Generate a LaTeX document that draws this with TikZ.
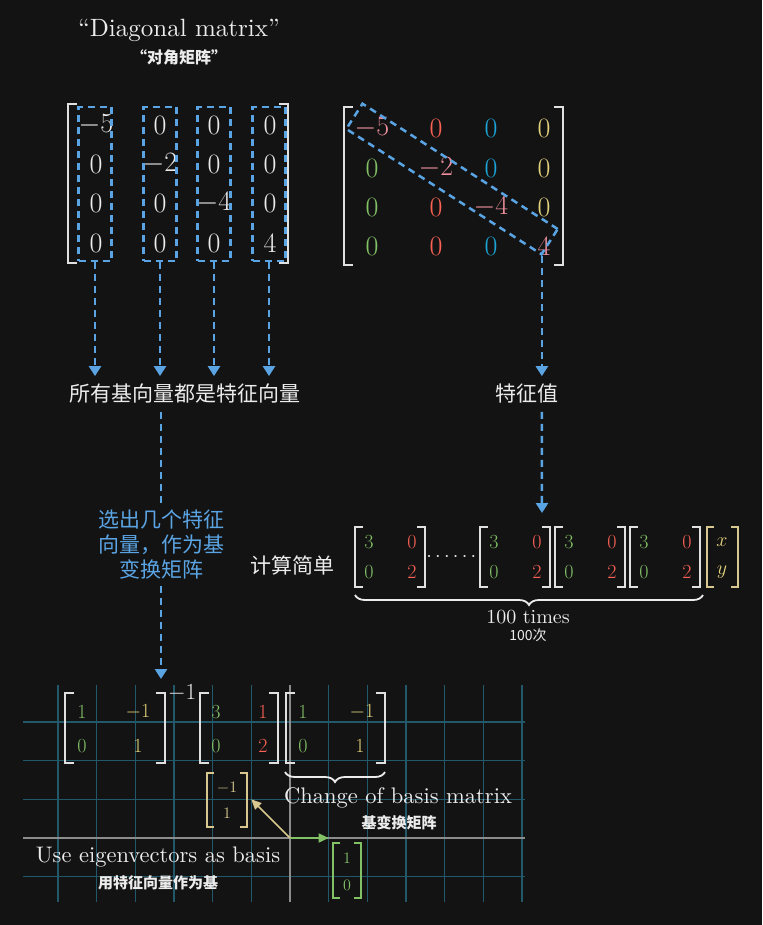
\RequirePackage{fix-cm}
\documentclass[tikz,border=0pt]{standalone}
\usepackage{fontspec}
\usepackage{amsmath}
\usetikzlibrary{arrows.meta,decorations.pathreplacing}
\setmainfont{lmroman10-regular.otf}
\newfontfamily\cjk{Noto Sans CJK SC}
\definecolor{BgDark}{HTML}{131313}
\definecolor{TextWhite}{HTML}{ECECEC}
\definecolor{BrackWhite}{HTML}{E0E0E0}
\definecolor{DashBlue}{HTML}{5BA4E3}
\definecolor{EntryPink}{HTML}{F0909F}
\definecolor{EntryRed}{HTML}{FC6255}
\definecolor{EntryCyan}{HTML}{1CA3D3}
\definecolor{EntryYellow}{HTML}{E3D27C}
\definecolor{EntryGreen}{HTML}{83C167}
\definecolor{VecTan}{HTML}{D8C890}
\definecolor{GridTeal}{HTML}{21596B}
\definecolor{AxisGray}{HTML}{8C8C8C}
\newcommand{\brackpair}[6]{%
  \draw[brak,#6] ({#1+#5},#3) -- (#1,#3) -- (#1,#4) -- ({#1+#5},#4);
  \draw[brak,#6] ({#2-#5},#3) -- (#2,#3) -- (#2,#4) -- ({#2-#5},#4);}
\tikzset{%
  bigentry/.style={text=TextWhite,font=\fontsize{28}{30}\selectfont},
  midentry/.style={text=TextWhite,font=\fontsize{20}{24}\selectfont},
  tinyentry/.style={font=\fontsize{16}{18}\selectfont},
  entitle/.style={text=TextWhite,font=\fontsize{25}{30}\selectfont},
  entext/.style={text=TextWhite,font=\fontsize{22.5}{26}\selectfont},
  zhlabel/.style={text=TextWhite,font=\cjk\fontsize{21}{25}\selectfont,inner ysep=8pt},
  zhblue/.style={text=DashBlue,font=\cjk\fontsize{21}{25}\selectfont,align=center,inner sep=6pt},
  zhsmall/.style={text=TextWhite,font=\cjk\bfseries\fontsize{15}{18}\selectfont},
  colbox/.style={draw=DashBlue,line width=2.5pt,dash pattern=on 7pt off 5pt,
    minimum width=33pt,minimum height=154pt},
  diagbox/.style={draw=DashBlue,line width=2.5pt,dash pattern=on 7pt off 5pt,
    minimum width=232pt,minimum height=30pt,rotate=-32.7},
  flow/.style={-{Triangle[width=12pt,length=10pt]},line width=2.5pt,
    dash pattern=on 7pt off 5pt,DashBlue},
  dline/.style={line width=2.5pt,dash pattern=on 7pt off 5pt,DashBlue},
  brak/.style={line width=2.6pt,line join=miter},
  curly/.style={draw=TextWhite,line width=1.8pt,decorate,
    decoration={brace,mirror,amplitude=10pt}},
  gridline/.style={GridTeal,line width=1.4pt},
  axisline/.style={AxisGray,line width=1.4pt},
  vec/.style={-{Triangle[width=9pt,length=10pt]},line width=1.5pt}
}
\begin{document}
\begin{tikzpicture}[x=1pt,y=-1pt]
  \fill[BgDark] (0,0) rectangle (762,925);
  \useasboundingbox (0,0) rectangle (762,925);

  % title
  \node[entitle] (title) at (179,30) {``Diagonal matrix''};
  \node[zhsmall,font=\cjk\bfseries\fontsize{16}{18}\selectfont] (titlezh) at (179,57) {“对角矩阵”};

  % diagonal matrix, column view
  \foreach \row/\y in {1/125,2/164,3/203,4/243}
    \foreach \col/\x/\d in {1/96/-5,2/160/-2,3/214/-4,4/270/4}
      \node[bigentry] (a\row\col) at (\x,\y) {$\ifnum\row=\col\relax\d\else0\fi$};
  \brackpair{68}{288}{104}{263}{9}{BrackWhite}
  \foreach \x [count=\i] in {95,160,214,269}
    \node[colbox] (c\i) at (\x,184) {};

  % diagonal matrix, diagonal view
  \foreach \row/\y in {1/128,2/168,3/207,4/246}
    \foreach \col/\x/\d/\cc in {1/372/-5/EntryGreen,2/436/-2/EntryRed,3/491/-4/EntryCyan,4/544/4/EntryYellow}
      {\ifnum\row=\col\relax
         \node[bigentry,text=EntryPink] (b\row\col) at (\x,\y) {$\d$};
       \else
         \node[bigentry,text=\cc] (b\row\col) at (\x,\y) {$0$};
       \fi}
  \brackpair{344}{563}{107}{265}{9}{BrackWhite}
  \node[diagbox] (diag) at (452,179) {};

  % labels
  \node[zhlabel] (basis) at (185,394) {所有基向量都是特征向量};
  \node[zhlabel] (eig) at (527,394) {特征值};
  \node[zhblue] (choose) at (161,545) {选出几个特征\\向量，作为基\\变换矩阵};
  \node[zhlabel] (simple) at (292,565) {计算简单};

  \foreach \i in {1,...,4}
    \draw[flow] (c\i) -- (c\i |- basis.north);
  \draw[flow] (diag.south east) -- (diag.south east |- eig.north);
  \draw[dline] (basis.south -| choose.north) -- (choose.north);
  \coordinate (pinv) at (161,679);
  \draw[flow] (choose) -- (pinv);
  \coordinate (prod) at (542,513);
  \draw[flow] (diag.south east |- eig.south) -- (prod);

  % repeated product
  \foreach \lx [count=\m] in {355,480,555,630} {
    \brackpair{\lx}{\lx+70}{527}{587}{8}{BrackWhite}
    \node[midentry,text=EntryGreen] (p\m-11) at (\lx+14,542) {$3$};
    \node[midentry,text=EntryRed] (p\m-12) at (\lx+57,542) {$0$};
    \node[midentry,text=EntryGreen] (p\m-21) at (\lx+14,572) {$0$};
    \node[midentry,text=EntryRed] (p\m-22) at (\lx+57,572) {$2$};
  }
  \node[midentry] (dots) at (453,557) {$\cdots\cdots$};
  \brackpair{707}{738}{527}{587}{7}{VecTan}
  \node[midentry,text=EntryYellow] (vx) at (722,542) {$x$};
  \node[midentry,text=EntryYellow] (vy) at (722,572) {$y$};
  \draw[curly] (355,595) -- (703,595);
  \node[entext,font=\fontsize{20}{24}\selectfont] (times) at (528,617) {100 times};
  \node[text=TextWhite,font=\cjk\fontsize{14}{16}\selectfont] (timeszh) at (528,635) {100次};

  % grid
  \foreach \i in {-6,...,6}
    \draw[gridline] (290+38.67*\i,685) -- (290+38.67*\i,902);
  \foreach \j in {-1,...,3}
    \draw[gridline] (23,838-38.67*\j) -- (525,838-38.67*\j);
  \draw[axisline] (290,685) -- (290,902);
  \draw[axisline] (23,838) -- (525,838);
  \coordinate (O) at (290,838);
  \coordinate (ihat) at (328.7,838);
  \coordinate (vhat) at (251.3,799.3);
  \draw[vec,EntryGreen] (O) -- (ihat);
  \draw[vec,VecTan] (O) -- (vhat);

  % change of basis
  \brackpair{65}{165}{693}{763}{9}{BrackWhite}
  \node[midentry,text=EntryGreen] (q11) at (82,712) {$1$};
  \node[midentry,text=EntryYellow] (q12) at (138,712) {$-1$};
  \node[midentry,text=EntryGreen] (q21) at (82,746) {$0$};
  \node[midentry,text=EntryYellow] (q22) at (138,746) {$1$};
  \node[text=TextWhite,font=\fontsize{23}{26}\selectfont] (inv) at (182,693) {$-1$};
  \brackpair{200}{278}{693}{763}{9}{BrackWhite}
  \node[midentry,text=EntryGreen] (m11) at (216,712) {$3$};
  \node[midentry,text=EntryRed] (m12) at (263,712) {$1$};
  \node[midentry,text=EntryGreen] (m21) at (216,746) {$0$};
  \node[midentry,text=EntryRed] (m22) at (263,746) {$2$};
  \brackpair{286}{385}{693}{763}{9}{BrackWhite}
  \node[midentry,text=EntryGreen] (r11) at (303,712) {$1$};
  \node[midentry,text=EntryYellow] (r12) at (362,712) {$-1$};
  \node[midentry,text=EntryGreen] (r21) at (303,746) {$0$};
  \node[midentry,text=EntryYellow] (r22) at (360,746) {$1$};
  \draw[curly] (285,772) -- (385,772);
  \node[entext] (cob) at (398,798) {Change of basis matrix};
  \node[zhsmall] (cobzh) at (399,823) {基变换矩阵};
  \node[entext] (use) at (158,857) {Use eigenvectors as basis};
  \node[zhsmall] (usezh) at (158,883) {用特征向量作为基};

  % basis vectors
  \brackpair{207}{247}{773}{827}{7}{VecTan}
  \node[tinyentry,text=VecTan] (jv1) at (227,788) {$-1$};
  \node[tinyentry,text=VecTan] (jv2) at (227,813) {$1$};
  \brackpair{333}{361}{843}{898}{7}{EntryGreen}
  \node[tinyentry,text=EntryGreen] (iv1) at (347,858) {$1$};
  \node[tinyentry,text=EntryGreen] (iv2) at (347,885) {$0$};
\end{tikzpicture}
\end{document}
